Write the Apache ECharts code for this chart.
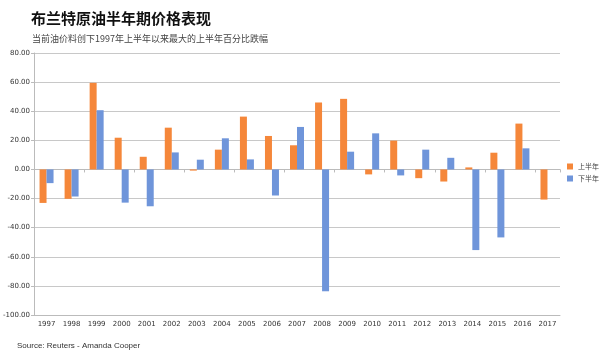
<!DOCTYPE html>
<html>
<head>
<meta charset="utf-8">
<script src="https://cdn.jsdelivr.net/npm/echarts@6/dist/echarts.min.js"></script>
<style>
  html, body { margin: 0; padding: 0; background: #fff; }
  #chart { width: 600px; height: 350px; }
</style>
</head>
<body>
<div id="chart"></div>
<script>
// 年份
var years = ['1997', '1998', '1999', '2000', '2001', '2002', '2003', '2004', '2005', '2006', '2007',
             '2008', '2009', '2010', '2011', '2012', '2013', '2014', '2015', '2016', '2017'];
// 上半年涨跌幅(%)
var firstHalf = [-23, -20.2, 59.5, 21.8, 8.7, 28.7, -0.8, 13.6, 36.3, 23, 16.6,
                 46, 48.5, -3.4, 19.8, -6, -8.3, 1.4, 11.5, 31.5, -20.7];
// 下半年涨跌幅(%)
var secondHalf = [-9.4, -18.6, 40.7, -22.8, -25.3, 11.7, 6.7, 21.4, 6.9, -17.9, 29.2,
                  -83.7, 12.2, 24.8, -4.1, 13.6, 8.0, -55.4, -46.7, 14.5, null];

var font = '"Microsoft YaHei", "Noto Sans CJK SC", sans-serif';

var option = {
    animation: false,
    backgroundColor: '#fff',
    title: [{
        text: '布兰特原油半年期价格表现',
        left: 26,
        top: 6,
        textStyle: { fontFamily: font, fontSize: 15, fontWeight: 'bold', color: '#111' }
    }, {
        text: '当前油价料创下1997年上半年以来最大的上半年百分比跌幅',
        left: 27,
        top: 29,
        textStyle: { fontFamily: font, fontSize: 9, fontWeight: 'normal', color: '#444' }
    }, {
        text: 'Source: Reuters - Amanda Cooper',
        left: 12,
        top: 337,
        textStyle: { fontFamily: 'Liberation Sans, Arial, sans-serif', fontSize: 8, fontWeight: 'normal', color: '#333' }
    }],
    legend: {
        orient: 'vertical',
        left: 567,
        top: 163,
        padding: 0,
        itemWidth: 6,
        itemHeight: 6,
        itemGap: 5,
        icon: 'rect',
        textStyle: { fontFamily: font, fontSize: 7, color: '#444' },
        data: ['上半年', '下半年']
    },
    grid: { left: 30, right: 40, top: 53, bottom: 35, containLabel: false },
    xAxis: [{
        type: 'category',
        data: years,
        position: 'bottom',
        axisLine: { onZero: false, lineStyle: { color: '#bbb' } },
        axisTick: { show: false },
        axisLabel: { fontSize: 7, color: '#333', margin: 6, fontFamily: 'DejaVu Sans, sans-serif' }
    }, {
        type: 'category',
        data: years,
        position: 'top',
        axisLine: { onZero: true, lineStyle: { color: '#bbb' } },
        axisTick: { show: true, inside: true, length: 3, lineStyle: { color: '#bbb' } },
        axisLabel: { show: false }
    }],
    yAxis: {
        type: 'value',
        min: -100,
        max: 80,
        interval: 20,
        axisLine: { show: true, lineStyle: { color: '#bbb' } },
        axisTick: { show: true, length: 3, lineStyle: { color: '#bbb' } },
        axisLabel: {
            fontSize: 7,
            color: '#333',
            margin: 4,
            fontFamily: 'DejaVu Sans, sans-serif',
            formatter: function(v) { return v.toFixed(2); }
        },
        splitLine: { lineStyle: { color: '#c8c8c8' } }
    },
    series: [{
        name: '上半年',
        type: 'bar',
        data: firstHalf,
        barWidth: 7,
        barGap: '0%',
        itemStyle: { color: '#F5873A' }
    }, {
        name: '下半年',
        type: 'bar',
        data: secondHalf,
        barWidth: 7,
        barGap: '0%',
        itemStyle: { color: '#6F95DA' }
    }]
};

echarts.init(document.getElementById('chart')).setOption(option);
</script>
</body>
</html>
